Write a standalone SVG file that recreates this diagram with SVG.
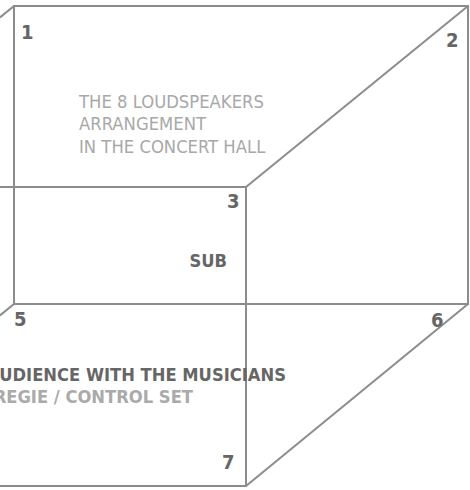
<svg xmlns="http://www.w3.org/2000/svg" width="470" height="490" viewBox="0 0 470 490">
<style>
text{font-family:"DejaVu Sans Condensed","DejaVu Sans",sans-serif;font-stretch:condensed}
.ln{stroke:#8c8c8c;stroke-width:2;fill:none}
.num{font-weight:bold;font-size:20px;fill:#666}
.lt{font-size:18.3px;fill:#a8a8a8}
.bd{font-weight:bold;font-size:18.2px;fill:#666}
.bl{font-weight:bold;font-size:18.2px;fill:#aaa}
</style>
<rect width="470" height="490" fill="#fff"/>
<g id="connectors">
<rect class="ln" x="14" y="6" width="454" height="298"/>
<polyline class="ln" points="0,187 246,187 246,486 0,486"/>
<line class="ln" x1="14" y1="6" x2="0" y2="17.4"/>
<line class="ln" x1="468" y1="6" x2="246" y2="187"/>
<line class="ln" x1="468" y1="304" x2="246" y2="486"/>
<line class="ln" x1="14" y1="304" x2="0" y2="315.4"/>
</g>
<g id="sp1"><text class="num" x="21" y="39">1</text></g>
<g id="sp2"><text class="num" x="446" y="47">2</text></g>
<g id="sp3"><text class="num" x="227" y="208">3</text></g>
<g id="sp5"><text class="num" x="14" y="326">5</text></g>
<g id="sp6"><text class="num" x="431" y="327">6</text></g>
<g id="sp7"><text class="num" x="222" y="469">7</text></g>
<g id="title">
<text class="lt" x="79" y="108">THE 8 LOUDSPEAKERS</text>
<text class="lt" x="79" y="130">ARRANGEMENT</text>
<text class="lt" x="79" y="153">IN THE CONCERT HALL</text>
</g>
<g id="sub"><text class="bd" x="227" y="267" text-anchor="end" font-size="17">SUB</text></g>
<g id="audience">
<text class="bd" x="286" y="381" text-anchor="end">UDIENCE WITH THE MUSICIANS</text>
<text class="bl" x="193" y="403" text-anchor="end">REGIE / CONTROL SET</text>
</g>
</svg>
